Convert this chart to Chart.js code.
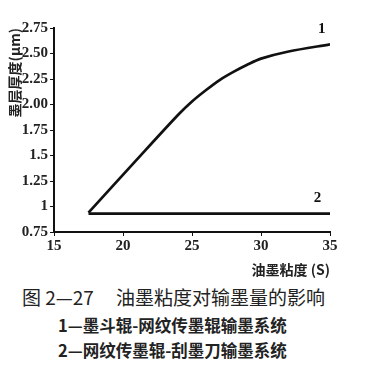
<!DOCTYPE html>
<html>
<head>
<meta charset="utf-8">
<script src="https://cdn.jsdelivr.net/npm/chart.js@4"></script>
<style>
  body { margin: 0; background: #fff; }
  #wrap { position: relative; width: 367px; height: 365px; }
  #chartBox { position: absolute; left: 0; top: 0; width: 367px; height: 282px; }
  .cap { position: absolute; white-space: nowrap; color: #222; font-family: "Noto Sans CJK SC", sans-serif; }
</style>
</head>
<body>
<div id="wrap">
  <div id="chartBox"><canvas id="myChart"></canvas></div>
  <div class="cap" style="left:22px; top:283px; font-size:19px;">图 2—27<span style="display:inline-block;width:22px"></span>油墨粘度对输墨量的影响</div>
  <div class="cap" style="left:58px; top:313px; font-size:16.5px; font-weight:bold;">1—墨斗辊-网纹传墨辊输墨系统</div>
  <div class="cap" style="left:58px; top:338px; font-size:16.5px; font-weight:bold;">2—网纹传墨辊-刮墨刀输墨系统</div>
</div>
<script>
// viscosity (S) and ink layer thickness (um)
const x1 = [17.5, 21, 24, 25, 26, 27, 28, 29, 30, 32, 35];
const y1 = [0.94, 1.46, 1.9, 2.03, 2.14, 2.24, 2.32, 2.39, 2.45, 2.52, 2.59];
const x2 = [17.5, 35];
const y2 = [0.93, 0.93];
const yTickLabels = ['0.75', '1', '1.25', '1.5', '1.75', '2.00', '2.25', '2.50', '2.75'];
const curveNames = ['1', '2'];

const tickFont = { family: 'Liberation Serif', size: 15, weight: 'bold' };

const curveLabels = {
    id: 'curveLabels',
    afterDatasetsDraw(chart) {
        const ctx = chart.ctx;
        const xs = chart.scales.x, ys = chart.scales.y;
        ctx.save();
        ctx.fillStyle = '#111';
        ctx.font = 'bold 15px "Liberation Serif"';
        ctx.textAlign = 'center';
        ctx.fillText(curveNames[0], xs.getPixelForValue(34.4), ys.getPixelForValue(2.7));
        ctx.fillText(curveNames[1], xs.getPixelForValue(34.1), ys.getPixelForValue(1.04));
        ctx.restore();
    }
};

const data = {
    datasets: [{
        label: curveNames[0],
        data: x1.map((v, i) => ({ x: v, y: y1[i] })),
        borderColor: '#111',
        borderWidth: 2.7,
        pointRadius: 0,
        tension: 0.3,
        fill: false
    }, {
        label: curveNames[1],
        data: x2.map((v, i) => ({ x: v, y: y2[i] })),
        borderColor: '#111',
        borderWidth: 2.7,
        pointRadius: 0,
        fill: false
    }]
};

const config = {
    type: 'line',
    data: data,
    plugins: [curveLabels],
    options: {
        responsive: true,
        maintainAspectRatio: false,
        animation: false,
        layout: { padding: { left: 0, right: 37, top: 28, bottom: 0 } },
        plugins: { legend: { display: false }, tooltip: { enabled: false } },
        scales: {
            x: {
                type: 'linear',
                min: 15,
                max: 35,
                afterFit: (s) => { s.height = 50; },
                ticks: { stepSize: 5, color: '#222', font: tickFont, padding: 1 },
                grid: { drawOnChartArea: false, drawTicks: true, tickLength: 4, color: '#111' },
                border: { color: '#111', width: 2 },
                title: {
                    display: true,
                    text: '油墨粘度 (S)',
                    align: 'end',
                    color: '#222',
                    font: { family: 'Noto Sans CJK SC', size: 14, weight: 'bold' },
                    padding: { top: 0 }
                }
            },
            y: {
                min: 0.75,
                max: 2.75,
                afterFit: (s) => { s.width = 54; },
                ticks: {
                    stepSize: 0.25,
                    color: '#222',
                    font: tickFont,
                    padding: 2,
                    callback: (v, i) => yTickLabels[i]
                },
                grid: { drawOnChartArea: false, drawTicks: true, tickLength: 4, color: '#111' },
                border: { color: '#111', width: 2 },
                title: {
                    display: true,
                    text: '墨层厚度(μm)',
                    align: 'end',
                    color: '#222',
                    font: { family: 'Noto Sans CJK SC', size: 14, weight: 'bold' },
                    padding: { top: 6, bottom: 0 }
                }
            }
        }
    }
};

Chart.defaults.color = '#222';

const ctx = document.getElementById('myChart');
const chart = new Chart(ctx, config);
</script>
</body>
</html>
